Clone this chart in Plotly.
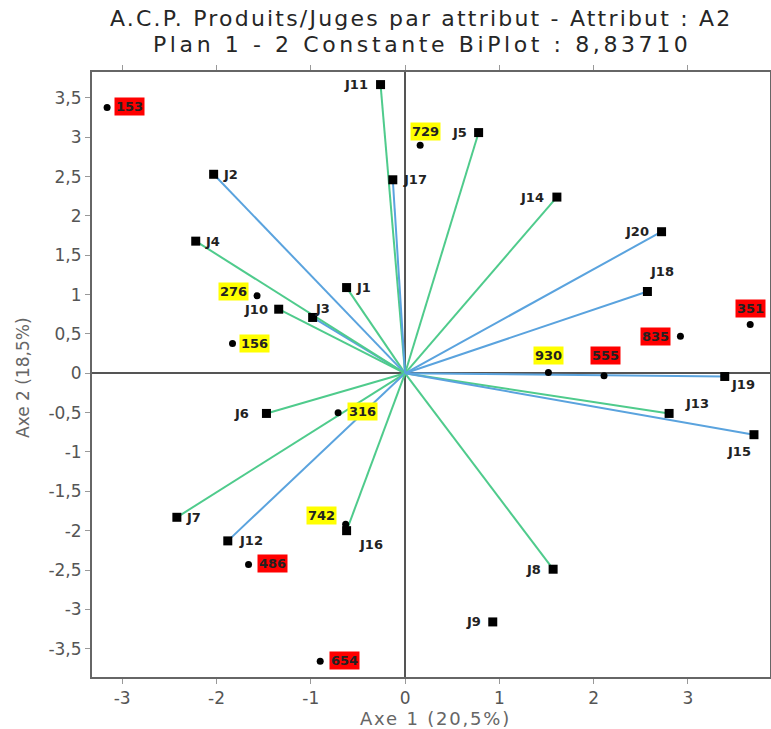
import plotly.graph_objects as go

# ---- data -------------------------------------------------------------
judges = ["J1", "J2", "J3", "J4", "J5", "J6", "J7", "J8", "J9", "J10",
          "J11", "J12", "J13", "J14", "J15", "J16", "J17", "J18", "J19", "J20"]
judge_x = [-0.62, -2.03, -0.98, -2.22, 0.78, -1.47, -2.42, 1.57, 0.93, -1.34,
           -0.26, -1.88, 2.80, 1.61, 3.70, -0.62, -0.13, 2.57, 3.39, 2.72]
judge_y = [1.09, 2.53, 0.71, 1.68, 3.06, -0.51, -1.83, -2.49, -3.16, 0.815,
           3.67, -2.13, -0.51, 2.24, -0.78, -2.00, 2.46, 1.04, -0.04, 1.80]
# vector colour group: "g" green, "b" blue, "" none
judge_vec = ["g", "b", "b", "g", "g", "g", "g", "g", "", "g",
             "g", "b", "g", "g", "b", "g", "b", "b", "b", "b"]

products = ["153", "729", "276", "156", "351", "835", "930", "555", "316", "742", "486", "654"]
prod_x = [-3.16, 0.16, -1.57, -1.83, 3.66, 2.92, 1.52, 2.11, -0.71, -0.63, -1.66, -0.90]
prod_y = [3.38, 2.90, 0.985, 0.38, 0.62, 0.47, 0.01, -0.03, -0.50, -1.92, -2.43, -3.66]
prod_group = ["r", "y", "y", "y", "r", "r", "y", "r", "y", "y", "r", "r"]

x_ticks = [-3, -2, -1, 0, 1, 2, 3]
y_ticks = [-3.5, -3, -2.5, -2, -1.5, -1, -0.5, 0, 0.5, 1, 1.5, 2, 2.5, 3, 3.5]

# ---- styles / label placement (pixel shifts) --------------------------
GREEN = "#4fcb8c"
BLUE = "#5aa3de"
judge_shift = {
    "J1": (17, 0), "J2": (17, 0), "J3": (10, 9), "J4": (17, 0), "J5": (-19, 0),
    "J6": (-25, 0), "J7": (17, 0), "J8": (-20, 0), "J9": (-19, 0), "J10": (-23, 0),
    "J11": (-25, 0), "J12": (23, 0), "J13": (28, 10), "J14": (-25, 0), "J15": (-15, -17),
    "J16": (24, -14), "J17": (22, 0), "J18": (15, 20), "J19": (18, -8), "J20": (-25, 0),
}
prod_shift = {
    "153": (22, 1), "729": (5, 14), "276": (-24, 4), "156": (22, 0), "351": (0, 16),
    "835": (-25, 0), "930": (0, 17), "555": (1, 20), "316": (24, 1), "742": (-24, 9),
    "486": (24, 1), "654": (24, 1),
}
group_col = {"r": "#ff0000", "y": "#ffff00"}

FONT = "DejaVu Sans, Liberation Sans, Arial, sans-serif"


def spaced(text, px):
    return '<span style="letter-spacing:%.1fpx">%s</span>' % (px, text)


fig = go.Figure()

# vectors from origin
for name, x, y, g in zip(judges, judge_x, judge_y, judge_vec):
    if not g:
        continue
    fig.add_trace(go.Scatter(
        x=[0, x], y=[0, y], mode="lines",
        line=dict(color=GREEN if g == "g" else BLUE, width=2),
        hoverinfo="skip", showlegend=False))

# judge markers
fig.add_trace(go.Scatter(
    x=judge_x, y=judge_y, mode="markers", text=judges,
    marker=dict(symbol="square", size=9, color="black"),
    showlegend=False))

# product markers
fig.add_trace(go.Scatter(
    x=prod_x, y=prod_y, mode="markers", text=products,
    marker=dict(symbol="circle", size=7, color="black"),
    showlegend=False))

annotations = []
for name, x, y in zip(judges, judge_x, judge_y):
    dx, dy = judge_shift[name]
    annotations.append(dict(x=x, y=y, xref="x", yref="y", text="<b>%s</b>" % name,
                            showarrow=False, xshift=dx, yshift=dy,
                            font=dict(family=FONT, size=13, color="#222")))
for name, x, y, g in zip(products, prod_x, prod_y, prod_group):
    dx, dy = prod_shift[name]
    annotations.append(dict(x=x, y=y, xref="x", yref="y", text="<b>%s</b>" % name,
                            showarrow=False, xshift=dx, yshift=dy, bgcolor=group_col[g],
                            borderpad=1,
                            font=dict(family=FONT, size=13, color="#222")))

# titles (page pixel placement converted to paper)
L, R, T, B = 92, 770, 72, 677


def px(xp):
    return (xp - L) / (R - L)


def py(yp):
    return (B - yp) / (B - T)


annotations += [
    dict(x=px(421), y=py(19), xref="paper", yref="paper", showarrow=False,
         xanchor="center", yanchor="middle",
         text=spaced("A.C.P. Produits/Juges par attribut - Attribut : A2", 2.2),
         font=dict(family=FONT, size=22, color="#262626")),
    dict(x=px(422), y=py(44), xref="paper", yref="paper", showarrow=False,
         xanchor="center", yanchor="middle",
         text=spaced("Plan 1 - 2 Constante BiPlot : 8,83710", 3.6),
         font=dict(family=FONT, size=22, color="#262626")),
    dict(x=px(435), y=py(718), xref="paper", yref="paper", showarrow=False,
         xanchor="center", yanchor="middle",
         text=spaced("Axe 1 (20,5%)", 1.8), font=dict(family=FONT, size=18, color="#666")),
    dict(x=px(23), y=py(378), xref="paper", yref="paper", showarrow=False,
         xanchor="center", yanchor="middle",
         text="Axe 2 (18,5%)", textangle=-90,
         font=dict(family=FONT, size=17, color="#666")),
]


def fmt(v):
    return ("%g" % v).replace(".", ",")


fig.update_layout(
    width=771, height=729,
    margin=dict(l=L, r=771 - R, t=T, b=729 - B, autoexpand=False),
    paper_bgcolor="white", plot_bgcolor="white",
    annotations=annotations,
    xaxis=dict(range=[-3.32, 3.87], tickvals=x_ticks, ticktext=[fmt(v) for v in x_ticks],
               showgrid=False, zeroline=True, zerolinecolor="#555", zerolinewidth=2,
               showline=True, linecolor="#666", linewidth=2, mirror="ticks",
               ticks="outside", ticklen=5, tickcolor="#999",
               tickfont=dict(family=FONT, size=17, color="#555")),
    yaxis=dict(range=[-3.86, 3.83], tickvals=y_ticks, ticktext=[fmt(v) for v in y_ticks],
               showgrid=False, zeroline=True, zerolinecolor="#555", zerolinewidth=2,
               showline=True, linecolor="#666", linewidth=2, mirror="ticks",
               ticks="outside", ticklen=5, tickcolor="#999",
               tickfont=dict(family=FONT, size=17, color="#555")),
)

fig.write_html("out.html", config={"displayModeBar": False},
               post_script="document.body.style.margin='0';")
